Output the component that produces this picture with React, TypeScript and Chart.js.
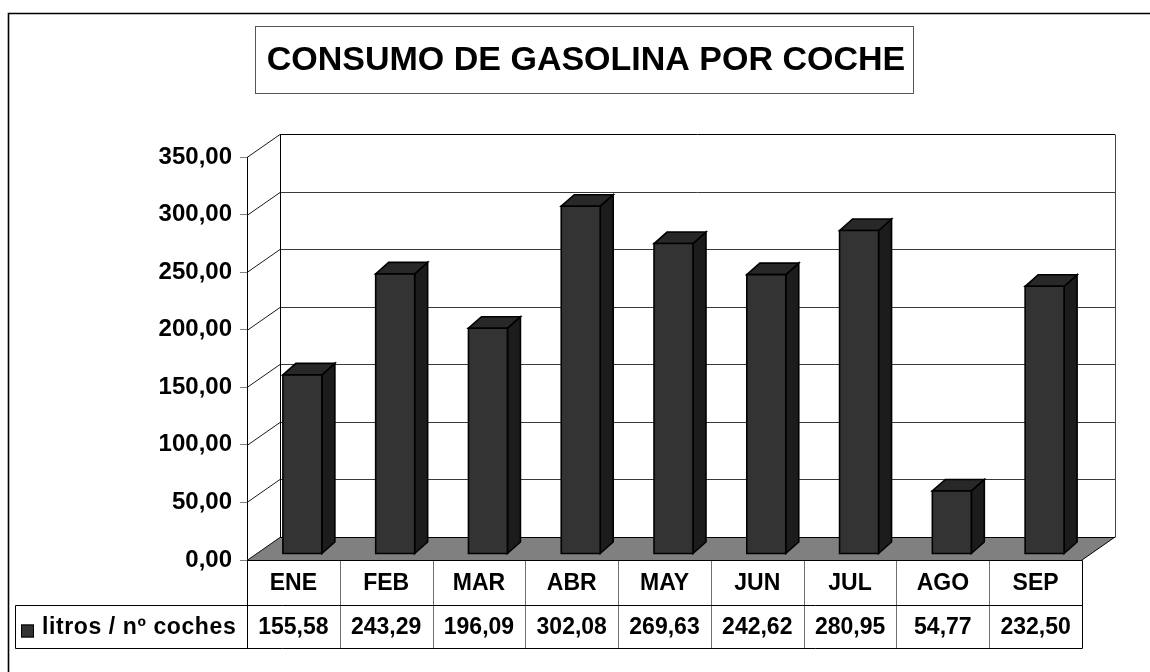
import React, { useEffect, useRef } from 'react';
import { Chart, registerables } from 'chart.js';

Chart.register(...registerables);

const TITLE = 'CONSUMO DE GASOLINA POR COCHE';
const SERIES_LABEL = 'litros / nº coches';
const MONTHS = ['ENE', 'FEB', 'MAR', 'ABR', 'MAY', 'JUN', 'JUL', 'AGO', 'SEP'];
const VALUES = [155.58, 243.29, 196.09, 302.08, 269.63, 242.62, 280.95, 54.77, 232.5];
const Y_MIN = 0;
const Y_MAX = 350;
const Y_STEP = 50;

const FONT = '"Liberation Sans", Arial, Helvetica, sans-serif';
const fmt = (v: number) => v.toFixed(2).replace('.', ',');

// 3D geometry (pixels)
const WALL_DX = 33;
const WALL_DY = 23;
const BAR_DX = 9;
const BAR_DY = 6;
const DEPTH_DX = 13;
const DEPTH_DY = 11.5;
const HEADER_H = 45;
const VALUE_H = 43;
const LEGEND_LEFT = 15;

const scene3d = {
  id: 'scene3d',
  beforeDatasetsDraw(chart: any) {
    const { ctx, chartArea, scales } = chart;
    const { left, right, top, bottom } = chartArea;
    const y = scales.y;
    ctx.save();
    // floor
    ctx.fillStyle = '#808080';
    ctx.beginPath();
    ctx.moveTo(left, bottom);
    ctx.lineTo(right, bottom);
    ctx.lineTo(right + WALL_DX, bottom - WALL_DY);
    ctx.lineTo(left + WALL_DX, bottom - WALL_DY);
    ctx.closePath();
    ctx.fill();
    // gridlines on side and back walls
    ctx.lineWidth = 1;
    y.ticks.forEach((t: any) => {
      const fy = Math.round(y.getPixelForValue(t.value)) + 0.5;
      ctx.strokeStyle = '#1a1a1a';
      ctx.beginPath();
      ctx.moveTo(left, fy);
      ctx.lineTo(left + WALL_DX, fy - WALL_DY);
      ctx.stroke();
      ctx.strokeStyle = t.value === Y_MIN || t.value === Y_MAX ? '#000' : '#3a3a3a';
      ctx.beginPath();
      ctx.moveTo(left + WALL_DX, fy - WALL_DY);
      ctx.lineTo(right + WALL_DX, fy - WALL_DY);
      ctx.stroke();
    });
    // back wall verticals
    const bt = Math.round(top) + 0.5 - WALL_DY;
    const bb = Math.round(bottom) + 0.5 - WALL_DY;
    ctx.strokeStyle = '#000';
    ctx.beginPath();
    ctx.moveTo(left + WALL_DX + 0.5, bt);
    ctx.lineTo(left + WALL_DX + 0.5, bb);
    ctx.stroke();
    ctx.strokeStyle = '#444';
    ctx.beginPath();
    ctx.moveTo(right + WALL_DX + 0.5, bt);
    ctx.lineTo(right + WALL_DX + 0.5, bb);
    ctx.stroke();
    // floor right diagonal
    ctx.strokeStyle = '#000';
    ctx.beginPath();
    ctx.moveTo(right, bottom);
    ctx.lineTo(right + WALL_DX, bottom - WALL_DY);
    ctx.stroke();
    ctx.restore();
  },
  afterDatasetsDraw(chart: any) {
    const { ctx } = chart;
    const meta = chart.getDatasetMeta(0);
    ctx.save();
    ctx.lineJoin = 'miter';
    meta.data.forEach((el: any) => {
      const p = el.getProps(['x', 'y', 'base', 'width'], true);
      const l = p.x - p.width / 2 + BAR_DX;
      const r = p.x + p.width / 2 + BAR_DX;
      const t = p.y - BAR_DY;
      const b = p.base - BAR_DY;
      ctx.lineWidth = 1.6;
      ctx.strokeStyle = '#000';
      // side face
      ctx.fillStyle = '#1c1c1c';
      ctx.beginPath();
      ctx.moveTo(r, b);
      ctx.lineTo(r + DEPTH_DX, b - DEPTH_DY);
      ctx.lineTo(r + DEPTH_DX, t - DEPTH_DY);
      ctx.lineTo(r, t);
      ctx.closePath();
      ctx.fill();
      ctx.stroke();
      // top face
      ctx.fillStyle = '#282828';
      ctx.beginPath();
      ctx.moveTo(l, t);
      ctx.lineTo(l + DEPTH_DX, t - DEPTH_DY);
      ctx.lineTo(r + DEPTH_DX, t - DEPTH_DY);
      ctx.lineTo(r, t);
      ctx.closePath();
      ctx.fill();
      ctx.stroke();
      // front face
      ctx.fillStyle = '#333333';
      ctx.beginPath();
      ctx.rect(l, t, r - l, b - t);
      ctx.fill();
      ctx.stroke();
    });
    ctx.restore();
  },
  afterDraw(chart: any) {
    const { ctx, chartArea, scales } = chart;
    const { left, right, bottom } = chartArea;
    const x = scales.x;
    const colW = (right - left) / MONTHS.length;
    const r0 = Math.round(bottom) + 0.5;
    const r1 = r0 + HEADER_H;
    const r2 = r1 + VALUE_H;
    const L = Math.round(left) + 0.5;
    const R = Math.round(right) + 0.5;
    ctx.save();
    ctx.lineWidth = 1;
    // interior vertical separators
    ctx.strokeStyle = '#707070';
    for (let i = 1; i < MONTHS.length; i++) {
      const vx = Math.round(left + i * colW) + 0.5;
      ctx.beginPath();
      ctx.moveTo(vx, r0);
      ctx.lineTo(vx, r2);
      ctx.stroke();
    }
    ctx.strokeStyle = '#000';
    ctx.beginPath();
    ctx.moveTo(L, r0);
    ctx.lineTo(R, r0);
    ctx.moveTo(LEGEND_LEFT + 0.5, r1);
    ctx.lineTo(R, r1);
    ctx.moveTo(LEGEND_LEFT + 0.5, r2);
    ctx.lineTo(R, r2);
    ctx.moveTo(LEGEND_LEFT + 0.5, r1);
    ctx.lineTo(LEGEND_LEFT + 0.5, r2);
    ctx.moveTo(L, r0);
    ctx.lineTo(L, r2);
    ctx.moveTo(R, r0);
    ctx.lineTo(R, r2);
    ctx.stroke();

    // texts
    ctx.fillStyle = '#000';
    ctx.textBaseline = 'middle';
    ctx.textAlign = 'center';
    ctx.font = `bold 23px ${FONT}`;
    MONTHS.forEach((m, i) => {
      const cx = x.getPixelForValue(i);
      ctx.fillText(m, cx, r0 + HEADER_H / 2 + 1);
      ctx.fillText(fmt(VALUES[i]), cx, r1 + VALUE_H / 2 + 1);
    });
    // legend key
    ctx.fillStyle = '#333333';
    ctx.fillRect(21, r1 + 19, 13, 13);
    ctx.strokeStyle = '#000';
    ctx.strokeRect(21.5, r1 + 19.5, 12, 12);
    ctx.fillStyle = '#000';
    ctx.textAlign = 'left';
    (ctx as any).letterSpacing = '0.6px';
    ctx.fillText(SERIES_LABEL, 42, r1 + VALUE_H / 2 + 1);
    (ctx as any).letterSpacing = '0px';

    // title box
    ctx.strokeStyle = '#555';
    ctx.lineWidth = 1;
    ctx.strokeRect(255.5, 26.5, 658, 67);
    ctx.font = `bold 34px ${FONT}`;
    ctx.textAlign = 'center';
    ctx.fillText(TITLE, 586, 61);

    // outer frame
    ctx.strokeStyle = '#000';
    ctx.lineWidth = 1.6;
    ctx.beginPath();
    ctx.moveTo(8.5, 672);
    ctx.lineTo(8.5, 13.5);
    ctx.lineTo(1150, 13.5);
    ctx.stroke();
    ctx.restore();
  },
};

export default function App() {
  const ref = useRef<HTMLCanvasElement | null>(null);
  useEffect(() => {
    if (!ref.current) return;
    const chart = new Chart(ref.current, {
      type: 'bar',
      data: {
        labels: MONTHS,
        datasets: [
          {
            label: SERIES_LABEL,
            data: VALUES,
            backgroundColor: 'rgba(0,0,0,0)',
            borderWidth: 0,
            barPercentage: 0.42,
            categoryPercentage: 1,
          },
        ],
      },
      options: {
        animation: false,
        responsive: false,
        devicePixelRatio: 1,
        layout: { padding: { left: 0, top: 157, right: 68, bottom: 112 } },
        plugins: { legend: { display: false }, title: { display: false }, tooltip: { enabled: false } },
        scales: {
          x: { display: false },
          y: {
            min: Y_MIN,
            max: Y_MAX,
            afterFit: (s: any) => {
              s.width = 247;
            },
            ticks: {
              stepSize: Y_STEP,
              padding: 8,
              color: '#000',
              font: { family: FONT, size: 24, weight: 'bold' },
              callback: (v: any) => fmt(Number(v)),
            },
            grid: { drawOnChartArea: false, drawTicks: true, tickLength: 7, color: '#808080' },
            border: { display: true, color: '#000', width: 1 },
          },
        },
      },
      plugins: [scene3d],
    });
    return () => chart.destroy();
  }, []);
  return (
    <div style={{ position: 'absolute', left: 0, top: 0, width: 1150, height: 672, background: '#fff' }}>
      <canvas ref={ref} width={1150} height={672} style={{ display: 'block', width: 1150, height: 672 }} />
    </div>
  );
}
